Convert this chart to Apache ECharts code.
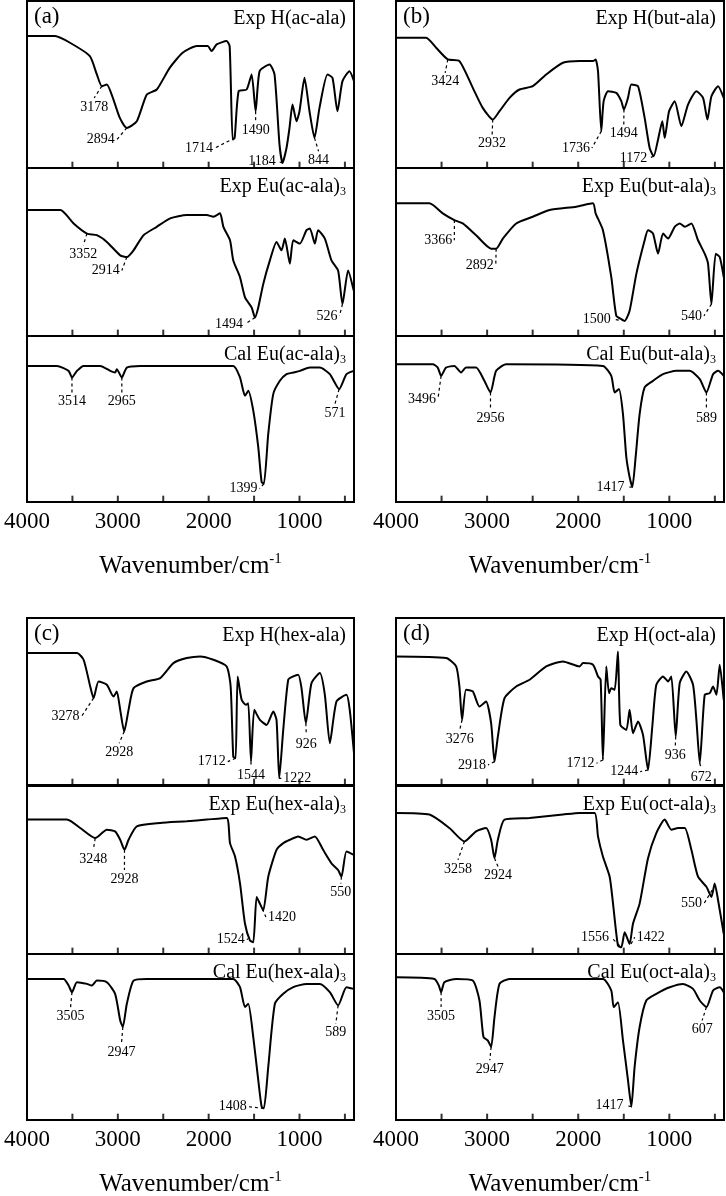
<!DOCTYPE html>
<html>
<head>
<meta charset="utf-8">
<script src="https://cdn.jsdelivr.net/npm/echarts@6/dist/echarts.min.js"></script>
<style>html,body{margin:0;padding:0;background:#fff}#main{width:726px;height:1196px}</style>
</head>
<body>
<div id="main"></div>
<script>
// spectra: [wavenumber, relative transmittance 0-100 inside each sub box]
var specA1=[[4000,79],[3692,79],[3527,75],[3308,67],[3231,56],[3176,49],[3121,50],[3055,42],[2978,30],[2901,24],[2791,28],[2681,44],[2571,47],[2429,60],[2286,69],[2132,73],[2011,73],[1967,70],[1912,74],[1802,76],[1769,73],[1736,17],[1714,18],[1670,46],[1582,47],[1527,56],[1483,34],[1439,58],[1330,62],[1275,56],[1220,14],[1187,3],[1143,12],[1110,24],[1077,38],[1033,28],[1000,34],[945,54],[890,34],[835,18],[780,36],[692,56],[637,54],[582,34],[527,52],[450,58],[400,52]];
var specA2=[[4000,75],[3633,75],[3487,67],[3340,61],[3231,60],[3121,56],[2974,48],[2901,47],[2827,51],[2717,60],[2571,65],[2424,70],[2241,72],[2021,72],[1948,71],[1875,73],[1838,65],[1765,57],[1729,45],[1655,35],[1600,23],[1527,17],[1490,11],[1454,17],[1399,31],[1326,45],[1253,56],[1198,51],[1161,58],[1106,43],[1069,57],[996,55],[923,63],[886,64],[831,55],[795,63],[721,58],[648,45],[575,39],[527,19],[465,39],[403,27]];
var specA3=[[4000,82],[3670,82],[3542,79],[3505,75],[3450,79],[3377,82],[3194,82],[3084,79],[3030,78],[3011,80],[2956,75],[2901,81],[2754,82],[1729,82],[1655,75],[1600,64],[1564,67],[1509,55],[1454,33],[1417,12],[1392,11],[1344,41],[1289,65],[1216,73],[1143,77],[1069,78],[996,79],[886,81],[776,81],[666,77],[564,68],[483,77],[403,79]];
var specB1=[[4000,78],[3670,78],[3560,72],[3432,65],[3304,64],[3157,48],[3048,36],[2938,29],[2864,34],[2754,42],[2644,47],[2498,49],[2351,56],[2168,63],[1985,64],[1838,64],[1809,65],[1783,58],[1747,22],[1721,40],[1673,46],[1582,45],[1527,40],[1498,35],[1454,42],[1417,50],[1344,49],[1271,30],[1216,12],[1172,7],[1124,17],[1077,28],[1051,18],[1003,34],[941,40],[868,25],[795,38],[703,46],[630,42],[582,29],[538,43],[465,49],[403,42]];
var specB2=[[4000,79],[3633,79],[3487,73],[3359,69],[3267,67],[3121,60],[2956,52],[2901,52],[2827,58],[2681,67],[2498,71],[2314,75],[2021,77],[1838,79],[1809,73],[1729,63],[1637,35],[1582,12],[1527,10],[1490,9],[1436,15],[1362,37],[1271,57],[1234,63],[1179,61],[1124,49],[1069,61],[1014,58],[941,65],[886,67],[831,65],[758,67],[685,57],[612,49],[575,43],[538,19],[491,49],[447,47],[403,35]];
var specB3=[[4000,83],[3597,83],[3542,81],[3505,76],[3450,81],[3359,82],[3286,78],[3231,81],[3121,81],[3030,73],[2963,66],[2901,79],[2791,83],[1729,82],[1637,76],[1600,66],[1553,68],[1509,53],[1472,27],[1436,15],[1406,9],[1370,27],[1326,53],[1271,69],[1179,73],[1069,77],[923,79],[776,79],[666,74],[593,66],[520,77],[465,79],[403,76]];
var specC1=[[4000,79],[3450,79],[3377,75],[3304,59],[3267,52],[3212,62],[3121,60],[3048,53],[3011,56],[2974,45],[2930,32],[2882,45],[2827,58],[2681,62],[2534,64],[2388,73],[2241,76],[2094,77],[1948,75],[1802,71],[1758,59],[1729,17],[1703,16],[1681,65],[1637,51],[1589,48],[1564,49],[1534,14],[1498,45],[1436,39],[1362,36],[1289,44],[1253,39],[1223,4],[1179,33],[1124,63],[1069,65],[1014,66],[978,58],[930,37],[868,61],[776,67],[721,54],[666,25],[593,50],[483,54],[447,45],[400,19]];
var specC2=[[4000,80],[3560,80],[3414,75],[3249,69],[3121,74],[3030,73],[2974,68],[2927,62],[2882,68],[2791,76],[2534,78],[2241,79],[2021,80],[1802,81],[1765,66],[1710,58],[1655,42],[1600,18],[1545,8],[1509,7],[1472,34],[1436,30],[1399,26],[1344,46],[1253,62],[1179,66],[1106,68],[1014,70],[923,68],[831,70],[740,62],[648,54],[575,50],[538,46],[483,61],[403,59]];
var specC3=[[4000,85],[3597,85],[3542,81],[3505,77],[3450,83],[3340,82],[3286,81],[3231,84],[3121,83],[3030,76],[2974,60],[2945,56],[2901,70],[2827,84],[2681,85],[1729,85],[1655,80],[1600,68],[1564,70],[1509,50],[1454,24],[1417,8],[1392,7],[1344,32],[1271,70],[1179,76],[1069,80],[923,82],[776,82],[666,77],[575,69],[483,80],[403,79]];
var specD1=[[4000,77],[3450,76],[3340,71],[3304,59],[3275,39],[3231,57],[3157,56],[3084,47],[3011,50],[2956,37],[2919,14],[2882,29],[2809,52],[2681,59],[2534,63],[2351,71],[2168,74],[1985,71],[1948,73],[1838,72],[1783,65],[1754,63],[1729,15],[1692,71],[1662,55],[1637,58],[1600,57],[1564,80],[1538,36],[1472,33],[1436,45],[1399,31],[1344,38],[1289,30],[1234,9],[1187,35],[1143,60],[1069,65],[1014,62],[978,65],[930,29],[886,61],[813,68],[740,60],[703,39],[666,13],[612,54],[557,55],[520,59],[483,54],[447,72],[403,51]];
var specD2=[[4000,84],[3633,83],[3414,75],[3249,67],[3121,73],[3011,75],[2956,68],[2919,57],[2882,68],[2809,80],[2534,81],[2168,83],[1985,84],[1820,84],[1783,70],[1729,58],[1655,46],[1618,30],[1564,5],[1527,4],[1490,13],[1436,6],[1399,18],[1326,30],[1234,57],[1143,72],[1051,80],[978,74],[904,75],[831,75],[758,62],[685,46],[593,40],[538,34],[502,42],[465,32],[403,12]];
var specD3=[[4000,86],[3578,85],[3530,81],[3505,77],[3469,83],[3340,85],[3157,84],[3084,72],[3040,50],[2993,48],[2956,44],[2919,62],[2864,82],[2754,85],[1729,85],[1637,78],[1611,68],[1564,71],[1509,48],[1454,24],[1417,8],[1381,32],[1326,56],[1253,72],[1143,76],[996,80],[850,82],[740,79],[666,72],[593,68],[520,78],[447,80],[403,77]];

// peak labels: [text, peak wn, peak y, leader end wn, leader end y, label side]
var annA1=[["3178",3176,49,3260,42,"bottom"],["2894",2901,24,3011,17,"left"],["1714",1714,18,1930,12,"left"],["1490",1483,34,1483,28,"bottom"],["1184",1187,3,1240,4,"left"],["844",835,18,790,10,"bottom"]];
var annA2=[["3352",3340,61,3380,54,"bottom"],["2914",2901,47,2956,39,"left"],["1494",1490,11,1600,7,"left"],["526",527,19,560,12,"left"]];
var annA3=[["3514",3505,75,3505,66,"bottom"],["2965",2956,75,2956,66,"bottom"],["1399",1392,11,1440,8,"left"],["571",564,68,610,59,"bottom"]];
var annB1=[["3424",3432,65,3460,57,"bottom"],["2932",2938,29,2945,20,"bottom"],["1736",1747,22,1850,12,"left"],["1494",1498,35,1500,26,"bottom"],["1172",1172,7,1220,6,"left"]];
var annB2=[["3366",3359,69,3360,57,"left"],["2892",2901,52,2905,42,"left"],["1500",1490,9,1620,10,"left"],["540",538,19,620,12,"left"]];
var annB3=[["3496",3505,76,3540,62,"left"],["2956",2963,66,2963,56,"bottom"],["1417",1406,9,1470,9,"left"],["589",593,66,593,56,"bottom"]];
var annC1=[["3278",3267,52,3400,41,"left"],["2928",2930,32,2985,25,"bottom"],["1712",1703,16,1790,14,"left"],["1544",1534,14,1534,11,"bottom"],["1222",1223,4,1200,4,"right"],["926",930,37,925,30,"bottom"]];
var annC2=[["3248",3249,69,3270,62,"bottom"],["2928",2927,62,2927,50,"bottom"],["1524",1509,7,1580,9,"left"],["1420",1436,30,1370,22,"right"],["550",538,46,545,42,"bottom"]];
var annC3=[["3505",3505,77,3520,68,"bottom"],["2947",2945,56,2960,46,"bottom"],["1408",1392,7,1560,8,"left"],["589",575,69,600,58,"bottom"]];
var annD1=[["3276",3275,39,3300,33,"bottom"],["2918",2919,14,2990,12,"left"],["1712",1729,15,1800,13,"left"],["1244",1234,9,1320,8,"left"],["936",930,29,935,23,"bottom"],["672",666,13,650,10,"bottom"]];
var annD2=[["3258",3249,67,3320,56,"bottom"],["2924",2919,57,2880,52,"bottom"],["1556",1545,5,1640,10,"left"],["1422",1420,6,1380,10,"right"],["550",530,38,620,30,"left"]];
var annD3=[["3505",3505,77,3505,68,"bottom"],["2947",2956,44,2970,36,"bottom"],["1417",1417,8,1480,9,"left"],["607",593,68,640,60,"bottom"]];

var titles=[
  ["Exp H(ac-ala)","Exp Eu(ac-ala)","Cal Eu(ac-ala)"],
  ["Exp H(but-ala)","Exp Eu(but-ala)","Cal Eu(but-ala)"],
  ["Exp H(hex-ala)","Exp Eu(hex-ala)","Cal Eu(hex-ala)"],
  ["Exp H(oct-ala)","Exp Eu(oct-ala)","Cal Eu(oct-ala)"]
];
var panelTags=["(a)","(b)","(c)","(d)"];
var tickVals=[500,1000,1500,2000,2500,3000,3500];
var labelVals=[1000,2000,3000,4000];

var specs=[[specA1,specA2,specA3],[specB1,specB2,specB3],[specC1,specC2,specC3],[specD1,specD2,specD3]];
var anns=[[annA1,annA2,annA3],[annB1,annB2,annB3],[annC1,annC2,annC3],[annD1,annD2,annD3]];

var font='"Liberation Serif","DejaVu Serif",serif';
var panelLeft=[27,396,27,396];
var panelWidth=[327,328,327,328];
var subTops=[[1,168,336],[1,168,336],[618,786,954],[618,786,954]];
var subH=[167,168,166];

var grid=[],xAxis=[],yAxis=[],series=[],titleArr=[];
for(var p=0;p<4;p++){
    for(var s=0;s<3;s++){
        var gi=p*3+s;
        var last=(s==2);
        grid.push({left:panelLeft[p],width:panelWidth[p],top:subTops[p][s],height:subH[s],
            containLabel:false,outerBoundsMode:'none',
            show:true,borderColor:'#000',borderWidth:2,backgroundColor:'transparent'});
        xAxis.push({gridIndex:gi,type:'value',min:400,max:4000,inverse:true,
            axisLine:{show:true,lineStyle:{color:'#000',width:2}},splitLine:{show:false},
            axisTick:{show:false},
            axisLabel:{show:last,customValues:labelVals,color:'#000',fontSize:23,fontFamily:font,margin:8,
                formatter:function(v){return String(v);}},
            name:last?'Wavenumber/cm{sup|-1}':'',nameLocation:'middle',nameGap:50,
            nameTextStyle:{color:'#000',fontSize:25,fontFamily:font,rich:{sup:{fontSize:15,fontFamily:font,color:'#000',padding:[0,0,14,0]}}}
        });
        yAxis.push({gridIndex:gi,type:'value',min:0,max:100,show:false});
        series.push({type:'line',xAxisIndex:gi,yAxisIndex:gi,data:specs[p][s],showSymbol:false,smooth:0.2,
            lineStyle:{color:'#000',width:2},silent:true,z:3});
        // inward tick marks on the bottom edge of each box
        series.push({type:'scatter',xAxisIndex:gi,yAxisIndex:gi,silent:true,symbol:'rect',symbolSize:[2,6],
            clip:false,itemStyle:{color:'#000'},z:4,
            data:tickVals.map(function(v){return [v,2];})});
        var al=anns[p][s];
        for(var k=0;k<al.length;k++){
            var a=al[k];
            series.push({type:'line',xAxisIndex:gi,yAxisIndex:gi,silent:true,symbolSize:0,showSymbol:true,
                lineStyle:{color:'#000',width:1.2,type:[3,3]},z:2,
                data:[[a[1],a[2]],{value:[a[3],a[4]],label:{show:true,position:a[5],distance:2,formatter:a[0],
                    color:'#000',fontSize:14,fontFamily:font}}]});
        }
        var t=titles[p][s];
        titleArr.push({text:s==0?t:t+'{sub|3}',
            right:(p%2==0?726-354:2)+3,top:subTops[p][s]+3,
            textStyle:{color:'#000',fontSize:20,fontWeight:'normal',fontFamily:font,
                rich:{sub:{fontSize:12,fontFamily:font,color:'#000',padding:[10,0,0,0]}}}});
    }
    titleArr.push({text:panelTags[p],left:panelLeft[p]+2,top:subTops[p][0]-1,
        textStyle:{color:'#000',fontSize:23,fontWeight:'normal',fontFamily:font}});
}

var myChart=echarts.init(document.getElementById('main'));
myChart.setOption({backgroundColor:'#fff',animation:false,title:titleArr,grid:grid,xAxis:xAxis,yAxis:yAxis,series:series});
</script>
</body>
</html>
